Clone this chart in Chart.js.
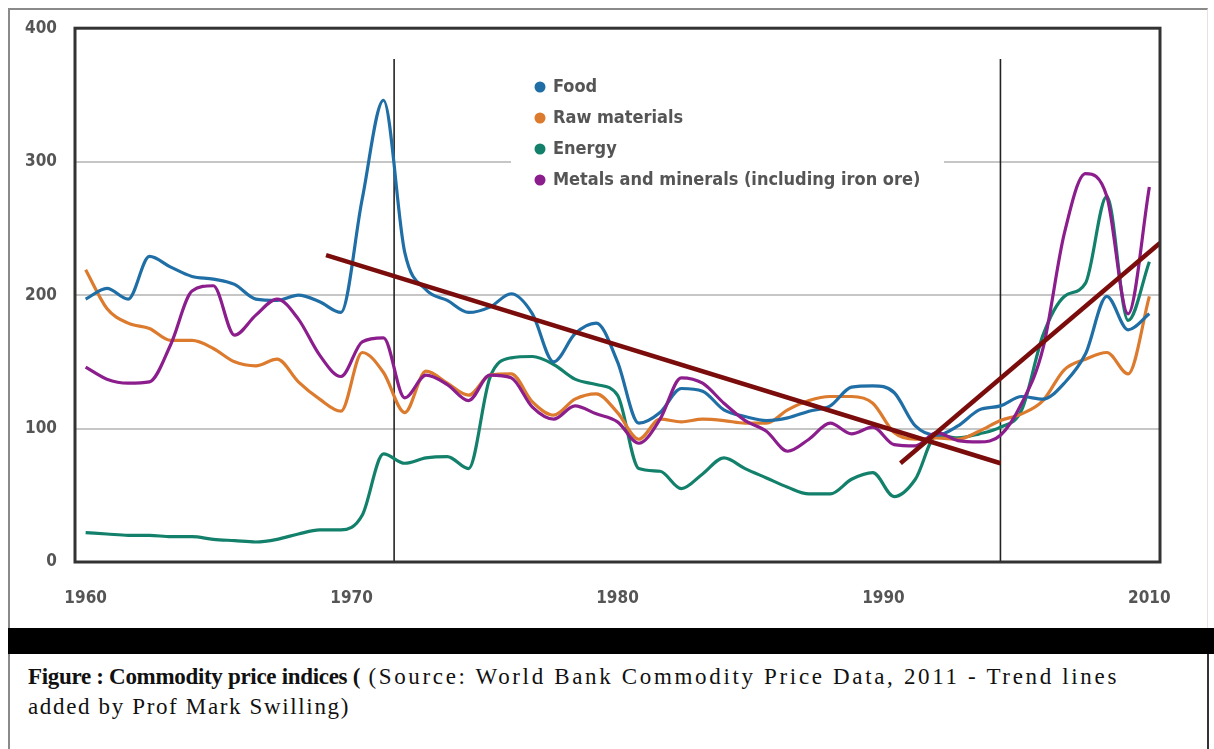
<!DOCTYPE html>
<html>
<head>
<meta charset="utf-8">
<title>Commodity price indices</title>
<script src="https://cdn.jsdelivr.net/npm/chart.js@4.4.1/dist/chart.umd.min.js"></script>
<style>
    html, body { margin: 0; padding: 0; background: #fff; }
    body { width: 1214px; height: 749px; position: relative; overflow: hidden; }
    #box { position: absolute; left: 8px; top: 8px; width: 1200px; height: 620px;
           border-left: 2px solid #8a8a8a; border-top: 2px solid #8a8a8a; border-right: 1px solid #e4e4e4; box-sizing: border-box; }
    #wrap { position: absolute; left: 0; top: 0; width: 1214px; height: 628px; }
    #band { position: absolute; left: 8px; right: 0; top: 628px; height: 26px; background: #000; }
    #caption { position: absolute; left: 8px; top: 654px; width: 1201px; height: 95px; box-sizing: border-box;
               border-left: 2px solid #8a8a8a; border-right: 2px solid #333;
               padding: 8px 0 0 18px; font-family: 'Liberation Serif', 'DejaVu Serif', serif;
               font-size: 23px; line-height: 30px; color: #111; white-space: nowrap; }
    #caption span { display: inline-block; white-space: pre; }
</style>
</head>
<body>
<div id="box"></div>
<div id="wrap"><canvas id="chart" width="1214" height="628"></canvas></div>
<div id="band"></div>
<div id="caption"><span id="capBold"><b>Figure : Commodity price indices (</b></span><span id="capRest"> (Source: World Bank Commodity Price Data, 2011 - Trend lines</span><br><span id="capLine2">added by Prof Mark Swilling)</span></div>

<script>
// yearly index values
const years = [1960, 1961, 1962, 1963, 1964, 1965, 1966, 1967, 1968, 1969,
               1970, 1971, 1972, 1973, 1974, 1975, 1976, 1977, 1978, 1979,
               1980, 1981, 1982, 1983, 1984, 1985, 1986, 1987, 1988, 1989,
               1990, 1991, 1992, 1993, 1994, 1995, 1996, 1997, 1998, 1999,
               2000, 2001, 2002, 2003, 2004, 2005, 2006, 2007, 2008, 2009, 2010];

const food = [197, 205, 197, 229, 221, 214, 212, 208, 197, 196,
              200, 195, 187, 272, 346, 232, 204, 196, 187, 191,
              201, 186, 150, 171, 179, 150, 104, 112, 130, 128,
              114, 109, 106, 108, 113, 117, 131, 132, 127, 102,
              95, 102, 114, 117, 124, 122, 134, 156, 199, 174, 186];

const rawMaterials = [219, 190, 179, 175, 166, 166, 160, 150, 147, 152,
                      135, 122, 113, 157, 142, 112, 143, 134, 125, 140,
                      141, 120, 110, 122, 126, 112, 92, 107, 105, 107,
                      106, 104, 104, 114, 121, 124, 124, 119, 97, 92,
                      93, 92, 98, 106, 111, 121, 144, 152, 157, 141, 199];

const energy = [22, 21, 20, 20, 19, 19, 17, 16, 15, 17,
                21, 24, 24, 35, 81, 74, 78, 79, 70, 138,
                153, 154, 148, 137, 133, 125, 70, 68, 55, 66,
                78, 70, 63, 56, 51, 51, 62, 67, 49, 62,
                95, 93, 96, 101, 114, 170, 199, 209, 274, 181, 225];

const metals = [146, 137, 134, 135, 163, 203, 207, 170, 185, 197,
                182, 155, 139, 165, 168, 123, 140, 133, 121, 140,
                138, 116, 107, 117, 111, 105, 89, 107, 138, 134,
                119, 106, 98, 83, 92, 104, 96, 101, 88, 87,
                97, 91, 90, 95, 119, 160, 246, 291, 274, 186, 281];

const seriesNames = ['Food', 'Raw materials', 'Energy', 'Metals and minerals (including iron ore)'];
const seriesColors = ['#1f6ea6', '#dc7a2e', '#12806a', '#8b1d8d'];

// trend lines added on top: [year, value] end points
const trendDown = [[1971.3, 230], [2003.0, 74]];
const trendUp = [[1998.3, 74], [2010.5, 239]];

// the two vertical marker lines
const markerYears = [1974.5, 2003.0];
const markerTop = 377;

const xTickLabels = [1960, 1970, 1980, 1990, 2010];
const yTicks = [0, 100, 200, 300, 400];

const narrowFamily = "'Liberation Sans Narrow', 'DejaVu Sans Condensed', 'Arial Narrow', sans-serif";
const tickFont = { family: narrowFamily, size: 17, weight: 'bold' };

function toPoints(vals) {
    return vals.map((v, i) => ({ x: years[i], y: v }));
}

function series(i, vals, order) {
    return {
        label: seriesNames[i],
        data: toPoints(vals),
        borderColor: seriesColors[i],
        borderWidth: 3.2,
        pointRadius: 0,
        cubicInterpolationMode: 'monotone',
        fill: false,
        order: order
    };
}

function straight(points, color, width, order) {
    return {
        label: '',
        data: points.map(p => ({ x: p[0], y: p[1] })),
        borderColor: color,
        borderWidth: width,
        pointRadius: 0,
        tension: 0,
        fill: false,
        order: order
    };
}

// legend box sitting inside the plot, like the original
const innerLegend = {
    id: 'innerLegend',
    afterDatasetsDraw(chart) {
        const ctx = chart.ctx;
        ctx.save();
        ctx.fillStyle = '#fff';
        ctx.fillRect(511, 64, 433, 136);
        ctx.font = 'bold 18px ' + narrowFamily;
        ctx.textBaseline = 'middle';
        seriesNames.forEach((name, i) => {
            const y = 87 + i * 31;
            ctx.fillStyle = seriesColors[i];
            ctx.beginPath();
            ctx.arc(540, y, 5.5, 0, Math.PI * 2);
            ctx.fill();
            ctx.fillStyle = '#555';
            ctx.fillText(name, 553, y);
        });
        ctx.restore();
    }
};

// dark frame round the plot area
const plotFrame = {
    id: 'plotFrame',
    afterDraw(chart) {
        const a = chart.chartArea;
        const ctx = chart.ctx;
        ctx.save();
        ctx.strokeStyle = '#333';
        ctx.lineWidth = 3;
        ctx.strokeRect(a.left, a.top, a.right - a.left, a.bottom - a.top);
        ctx.restore();
    }
};

const datasets = [
    straight(trendDown, '#7a0c0c', 4.5, 0),
    straight(trendUp, '#7a0c0c', 4.5, 0),
    series(3, metals, 1),
    series(0, food, 2),
    series(1, rawMaterials, 3),
    series(2, energy, 4)
];
markerYears.forEach(yr => datasets.push(straight([[yr, 0], [yr, markerTop]], '#222', 1.6, 5)));

new Chart(document.getElementById('chart'), {
    type: 'line',
    data: { datasets: datasets },
    options: {
        responsive: false,
        animation: false,
        devicePixelRatio: 1,
        layout: { padding: { left: 0, top: 25, right: 54, bottom: 0 } },
        plugins: { legend: { display: false }, tooltip: { enabled: false } },
        scales: {
            x: {
                type: 'linear',
                min: 1959.5,
                max: 2010.5,
                afterFit: (scale) => { scale.height = 66; },
                afterBuildTicks: (scale) => {
                    const first = xTickLabels[0];
                    const last = xTickLabels[xTickLabels.length - 1];
                    const step = (last - first) / (xTickLabels.length - 1);
                    scale.ticks = xTickLabels.map((t, i) => ({ value: first + i * step }));
                },
                ticks: {
                    callback: (value, index) => xTickLabels[index],
                    color: '#555',
                    font: tickFont,
                    padding: 26,
                    maxRotation: 0
                },
                grid: { display: false, drawTicks: false },
                border: { display: false }
            },
            y: {
                min: yTicks[0],
                max: yTicks[yTicks.length - 1],
                afterFit: (scale) => { scale.width = 75; },
                afterBuildTicks: (scale) => { scale.ticks = yTicks.map(v => ({ value: v })); },
                ticks: { color: '#555', font: tickFont, padding: 18 },
                grid: {
                    drawTicks: false,
                    lineWidth: 2,
                    color: (c) => (c.tick && (c.tick.value === yTicks[0] || c.tick.value === yTicks[yTicks.length - 1])) ? 'rgba(0,0,0,0)' : '#c6c6c6'
                },
                border: { display: false }
            }
        }
    },
    plugins: [innerLegend, plotFrame]
});

// stretch the caption pieces to the widths they take in the original
function fitWidth(id, target) {
    const el = document.getElementById(id);
    const natural = el.getBoundingClientRect().width;
    el.style.letterSpacing = ((target - natural) / el.textContent.length) + 'px';
}
fitWidth('capBold', 332);
fitWidth('capRest', 759);
fitWidth('capLine2', 322);
</script>
</body>
</html>
